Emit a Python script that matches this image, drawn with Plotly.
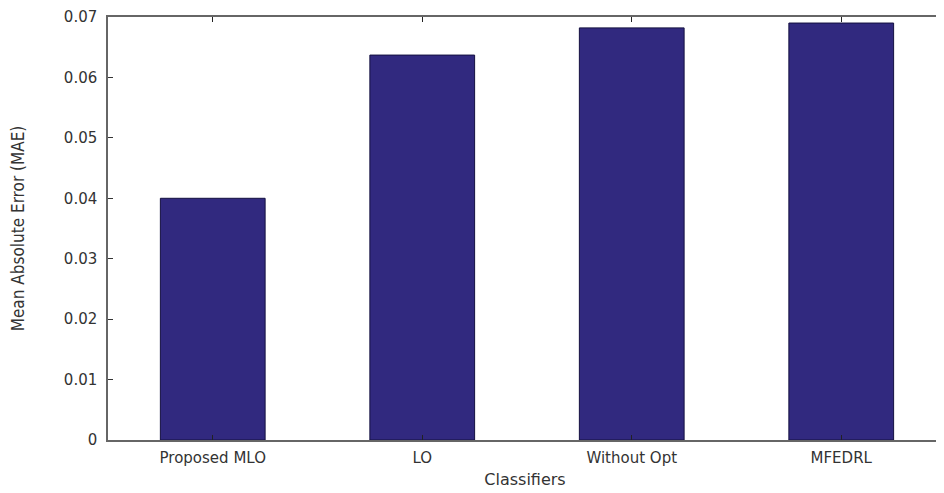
import plotly.graph_objects as go

categories = ["Proposed MLO", "LO", "Without Opt", "MFEDRL"]
mae_values = [0.0400, 0.0637, 0.0682, 0.0690]
y_ticks = [0, 0.01, 0.02, 0.03, 0.04, 0.05, 0.06, 0.07]
y_tick_labels = ["0", "0.01", "0.02", "0.03", "0.04", "0.05", "0.06", "0.07"]

fig = go.Figure()
fig.add_trace(go.Bar(
    x=list(range(len(categories))),
    y=mae_values,
    width=0.5,
    marker=dict(color="#31297f", line=dict(color="#141040", width=1)),
))

fig.update_layout(
    width=936, height=485,
    margin=dict(l=100, r=0, t=7, b=53),
    paper_bgcolor="white", plot_bgcolor="white",
    showlegend=False,
    font=dict(family="DejaVu Sans, Liberation Sans, sans-serif", color="#333333"),
    xaxis=dict(
        range=[-0.5, 3.481],
        tickmode="array",
        tickvals=list(range(len(categories))),
        ticktext=categories,
        ticks="inside", ticklen=5, tickcolor="#222",
        showline=True, linecolor="#666", linewidth=1.5, mirror="allticks",
        showgrid=False, zeroline=False,
        ticklabeloverflow="allow",
        ticklabelstandoff=3,
        tickfont=dict(size=15, color="#333"),
        title=dict(text="Classifiers", font=dict(size=16, color="#333"), standoff=8),
    ),
    yaxis=dict(
        range=[0, 0.07],
        tickmode="array",
        tickvals=y_ticks,
        ticktext=y_tick_labels,
        ticks="inside", ticklen=5, tickcolor="#333",
        showline=True, linecolor="#666", linewidth=1.5, mirror="allticks",
        showgrid=False, zeroline=False,
        ticklabeloverflow="allow",
        ticklabelstandoff=6,
        tickfont=dict(size=15, color="#333"),
        title=dict(text="Mean Absolute Error (MAE)",
                   font=dict(size=17, color="#333", family="DejaVu Sans Condensed, Roboto, sans-serif"),
                   standoff=36),
    ),
)

fig.write_html("out.html")
